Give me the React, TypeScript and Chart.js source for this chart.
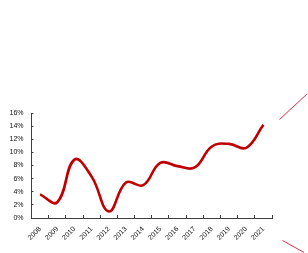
import React, { useEffect, useRef } from "react";
import { Chart, registerables } from "chart.js";

Chart.register(...registerables);

const years = ["2008","2009","2010","2011","2012","2013","2014","2015","2016","2017","2018","2019","2020","2021"];
const growth = [3.6, 2.4, 8.9, 6.3, 1.0, 5.4, 5.0, 8.4, 7.9, 7.7, 10.9, 11.3, 10.7, 14.2];
const yMin = 0;
const yMax = 16;
const yStep = 2;

export default function App() {
  const ref = useRef<HTMLCanvasElement>(null);
  useEffect(() => {
    if (!ref.current) return;
    const font = { family: "'Liberation Sans', Arial, sans-serif", size: 7 };
    const chart = new Chart(ref.current, {
      type: "line",
      data: {
        labels: years,
        datasets: [
          {
            data: growth,
            borderColor: "#c00000",
            borderWidth: 2.6,
            pointRadius: 0,
            tension: 0.42,
            fill: false,
          },
        ],
      },
      options: {
        animation: false,
        responsive: false,
        maintainAspectRatio: false,
        layout: { padding: { left: 0, top: 113, right: 36, bottom: 0 } },
        plugins: { legend: { display: false }, tooltip: { enabled: false } },
        scales: {
          x: {
            offset: true,
            grid: { offset: true, drawOnChartArea: false, drawTicks: true, tickLength: -3, color: "#404040" },
            border: { color: "#404040", width: 1 },
            ticks: { font, color: "#111", minRotation: 45, maxRotation: 45, padding: 10, autoSkip: false },
            afterFit: (s: any) => { s.height = 35; },
          },
          y: {
            min: yMin,
            max: yMax,
            grid: { drawOnChartArea: false, drawTicks: true, tickLength: -2, color: "#404040" },
            border: { color: "#404040", width: 1 },
            ticks: { stepSize: yStep, font, color: "#111", padding: 10, callback: (v: any) => v + "%" },
            afterFit: (s: any) => { s.width = 31.5; },
          },
        },
      },
    });
    return () => chart.destroy();
  }, []);
  return (
    <div style={{ position: "fixed", left: 0, top: 0, width: 308, height: 253, background: "#fff" }}>
      <canvas ref={ref} width={308} height={253} style={{ position: "absolute", left: 0, top: 0 }} />
      <svg width={308} height={253} style={{ position: "absolute", left: 0, top: 0, pointerEvents: "none" }}>
        <line x1={279.5} y1={119.5} x2={307} y2={94} stroke="#d9304a" strokeWidth={1} />
        <line x1={282.5} y1={240.5} x2={304} y2={252.5} stroke="#d9304a" strokeWidth={1} />
      </svg>
    </div>
  );
}
